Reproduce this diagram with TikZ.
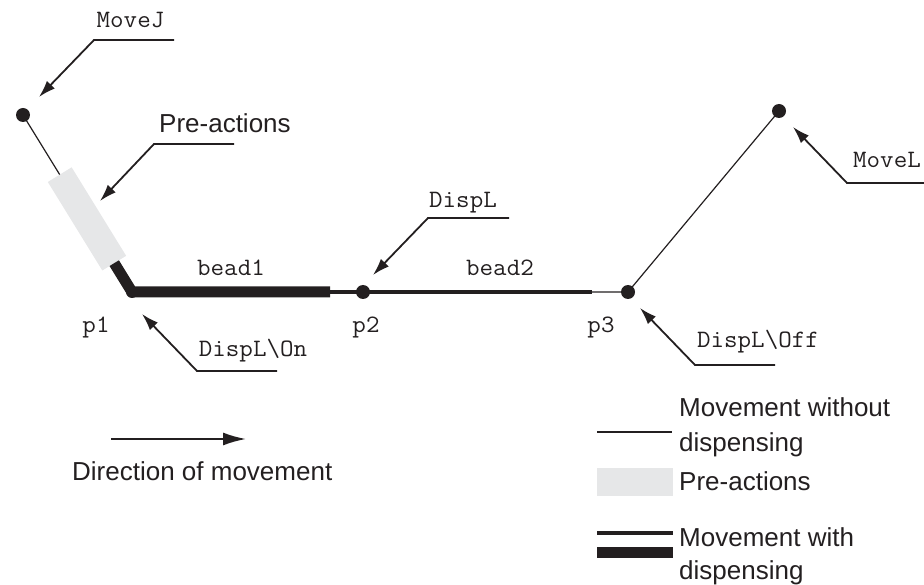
\documentclass[tikz,border=0pt]{standalone}
\usepackage{fontspec}
\setmainfont{Liberation Sans}
\newfontfamily\codefont{Latin Modern Mono}[FakeStretch=1.05]
\usetikzlibrary{arrows.meta,calc}

\definecolor{ink}{HTML}{231F20}
\definecolor{preact}{HTML}{E6E7E8}

\tikzset{
  pt/.style={circle,fill=ink,inner sep=0pt,minimum size=14pt},
  code/.style={font=\codefont\fontsize{25}{29}\selectfont,inner sep=0pt,text=ink},
  lbl/.style={font=\fontsize{26}{30}\selectfont,inner sep=0pt,text=ink},
  leader/.style={draw=ink,line width=1.8pt,line join=miter,-{Latex[length=17pt,width=11pt]}},
  nodisp/.style={draw=ink,line width=1.2pt},
  beadthin/.style={draw=ink,line width=4.5pt},
  beadthick/.style={draw=ink,line width=11pt},
  preband/.style={draw=preact,line width=28pt},
}

\begin{document}
\begin{tikzpicture}[x=1pt,y=-1pt]
\useasboundingbox (0,0) rectangle (924,585);

% path points
\coordinate (s) at (23,115);
\coordinate (p1) at (132,292);
\coordinate (b1end) at (330,292);
\coordinate (p2) at (363,292);
\coordinate (b2end) at (592,292);
\coordinate (p3) at (628,292);
\coordinate (e) at (779,111);

% approach with pre-actions, then the beads
\draw[nodisp] (s) -- (p1);
\draw[preband] ($(s)!0.337!(p1)$) -- ($(s)!0.837!(p1)$);
\draw[beadthin] (b1end) -- (b2end);
\draw[beadthick,line join=round] ($(s)!0.837!(p1)$) -- (p1) -- (b1end);
\draw[nodisp] (b2end) -- (p3) -- (e);

\node[pt] (ns) at (s) {};
\node[pt,minimum size=12pt] (np1) at (p1) {};
\node[pt] (np2) at (p2) {};
\node[pt] (np3) at (p3) {};
\node[pt] (ne) at (e) {};

% labels on the path
\node[code,anchor=base] (lb1) at (231,276) {bead1};
\node[code,anchor=base] (lb2) at (500,276) {bead2};
\node[code,anchor=base] (lp1) at (96,333) {p1};
\node[code,anchor=base] (lp2) at (366,333) {p2};
\node[code,anchor=base] (lp3) at (601,333) {p3};

% instruction callouts
\node[code,anchor=base] (cmj) at (130.5,28) {MoveJ};
\coordinate (mjA) at (174,40); \coordinate (mjB) at (94,40); \coordinate (mjT) at (39,97);
\draw[leader] (mjA) -- (mjB) -- (mjT);

\node[lbl,anchor=base west] (cpre) at (159,133) {Pre-actions};
\coordinate (prA) at (234,144); \coordinate (prB) at (154,144); \coordinate (prT) at (100,201);
\draw[leader] (prA) -- (prB) -- (prT);

\node[code,anchor=base] (cdl) at (463,208) {DispL};
\coordinate (dlA) at (509,218); \coordinate (dlB) at (428,218); \coordinate (dlT) at (373,275);
\draw[leader] (dlA) -- (dlB) -- (dlT);

\node[code,anchor=base] (con) at (253,357) {DispL\textbackslash On};
\coordinate (onA) at (277,371); \coordinate (onB) at (197,371); \coordinate (onT) at (142,314);
\draw[leader] (onA) -- (onB) -- (onT);

\node[code,anchor=base] (coff) at (758,348) {DispL\textbackslash Off};
\coordinate (ofA) at (775,365); \coordinate (ofB) at (695,365); \coordinate (ofT) at (640,308);
\draw[leader] (ofA) -- (ofB) -- (ofT);

\node[code,anchor=base west] (cml) at (853,168) {MoveL};
\coordinate (mlA) at (930,183); \coordinate (mlB) at (847,183); \coordinate (mlT) at (793,127);
\draw[leader] (mlA) -- (mlB) -- (mlT);

% direction of movement
\coordinate (dirA) at (111,439); \coordinate (dirB) at (246,439);
\draw[draw=ink,line width=2pt,-{Latex[length=23pt,width=13pt]}] (dirA) -- (dirB);
\node[lbl,anchor=base west] (ldir) at (72,480) {Direction of movement};

% legend
\draw[nodisp] (597,432) -- (672,432);
\fill[preact] (597,468) rectangle (673,496);
\draw[beadthin] (597,533) -- (673,533);
\fill[ink] (597,547) rectangle (673,558);
\node[lbl,anchor=base west] (lg1) at (679,417) {Movement without};
\node[lbl,anchor=base west] (lg2) at (679,451) {dispensing};
\node[lbl,anchor=base west] (lg3) at (679,490) {Pre-actions};
\node[lbl,anchor=base west] (lg4) at (679,546) {Movement with};
\node[lbl,anchor=base west] (lg5) at (679,579) {dispensing};
\end{tikzpicture}
\end{document}
